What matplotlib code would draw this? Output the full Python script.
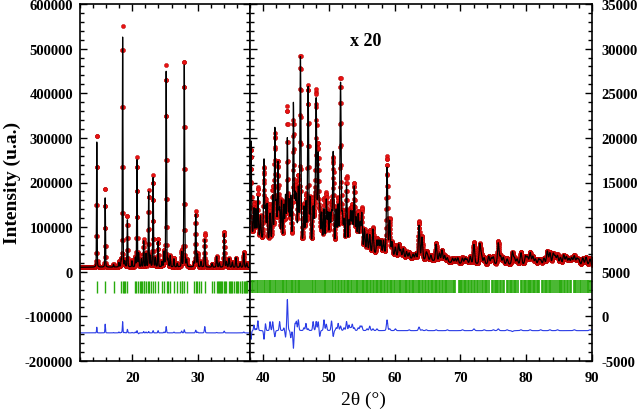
import numpy as np
import matplotlib
matplotlib.use("Agg")
import matplotlib.pyplot as plt
from matplotlib.ticker import MultipleLocator

plt.rcParams['font.family'] = ['Liberation Serif', 'DejaVu Serif']
plt.rcParams['font.weight'] = 'bold'
plt.rcParams['axes.unicode_minus'] = False

### Background (2theta, counts)
bg_tth = [12, 20, 30, 37, 40, 42, 46, 50, 54, 58, 62, 66, 70, 75, 80, 90]
bg_cts = [10000, 10500, 10500, 9500, 8500, 8300, 8000, 7800, 7300, 6900, 6500, 6200, 5900, 5800, 5800, 5700]

### Peaks, low angle part: position, calc height, obs height (above background)
pk_left_pos = [14.57, 15.85, 17.13, 17.95, 18.30, 18.52, 18.85, 19.25, 19.95, 20.46,
               20.72, 20.97, 21.38, 21.74, 22.10, 22.50, 22.77, 23.18, 23.54, 23.95,
               24.55, 24.85, 25.18, 25.44, 25.80, 26.36, 26.87, 27.54, 27.95, 28.31,
               29.45, 29.70, 29.98, 30.50, 31.08, 32.20, 32.90, 33.30, 34.05, 34.40,
               34.80, 35.30, 35.85, 36.50, 37.05, 37.50]
pk_left_calc = [290000, 160000, 6000, 10000, 14000, 515000, 12000, 108000, 14000, 20000,
                240000, 30000, 18000, 58000, 30000, 168000, 25000, 200000, 20000, 58000,
                12000, 33000, 438000, 15000, 25000, 18000, 8000, 33000, 460000, 15000,
                10000, 118000, 28000, 12000, 62000, 8000, 24000, 10000, 76000, 12000,
                20000, 12000, 22000, 10000, 33000, 10000]
pk_left_obs = [303000, 180000, 7000, 12000, 15000, 540000, 13000, 116000, 15000, 22000,
               245000, 28000, 18000, 61000, 32000, 171000, 25000, 205000, 20000, 63000,
               12000, 35000, 452000, 15000, 25000, 20000, 8000, 37000, 467000, 15000,
               10000, 124000, 30000, 12000, 76000, 8000, 25000, 10000, 80000, 12000,
               20000, 12000, 22000, 10000, 35000, 10000]

### Peaks, high angle part
pk_right_pos = [38.15, 38.6, 38.9, 39.2, 39.6, 40.13, 40.35, 40.6, 41.05, 41.45,
                41.78, 42.0, 42.27, 42.5, 42.8, 43.15, 43.4, 43.68, 43.95, 44.2,
                44.6, 44.85, 45.05, 45.35, 45.67, 46.2, 46.5, 46.84, 47.15, 47.6,
                47.85, 48.06, 48.37, 48.6, 48.9, 49.25, 49.6, 49.85, 50.15, 50.4,
                50.65, 51.1, 51.4, 51.77, 52.05, 52.3, 52.68, 53.05, 53.3, 53.55,
                53.85, 54.15, 54.45, 54.75, 55.0, 55.4, 55.8, 56.2, 56.7, 57.3,
                57.6, 57.9, 58.3, 58.84, 59.24, 59.6, 60.1, 60.6, 60.9, 61.3,
                61.8, 62.2, 62.8, 63.2, 63.7, 64.15, 64.8, 65.0, 65.5, 66.3,
                66.8, 67.2, 67.6, 68.0, 68.8, 69.2, 69.6, 70.3, 70.7, 71.0,
                71.5, 72.05, 72.95, 73.2, 73.6, 74.3, 74.7, 75.0, 75.75, 76.1,
                76.5, 77.1, 77.9, 78.2, 78.6, 79.2, 79.9, 80.2, 80.6, 81.0,
                81.4, 81.9, 82.2, 82.7, 83.2, 83.6, 84.1, 84.4, 84.75, 85.2,
                85.7, 86.1, 86.5, 86.9, 87.3, 87.7, 88.0, 88.6, 89.1, 89.7]
pk_right_calc = [10500, 3000, 3000, 4500, 2500, 9000, 3500, 4000, 3000, 5000,
                 12500, 4000, 8800, 3500, 4500, 4000, 5000, 11500, 4500, 5000,
                 15500, 5000, 5000, 6000, 21000, 4000, 4500, 17500, 5000, 4000,
                 4000, 16000, 10000, 4000, 3500, 4000, 5000, 3500, 3500, 3500,
                 10500, 4000, 4500, 18500, 3500, 3000, 7000, 3000, 4000, 4000,
                 7000, 3500, 4000, 3000, 4200, 2500, 2000, 2000, 2700, 1500,
                 1500, 1500, 1500, 9800, 3800, 1500, 1000, 1400, 800, 1000,
                 700, 600, 500, 600, 3800, 2500, 800, 500, 600, 1900,
                 900, 1300, 700, 500, 500, 500, 600, 600, 600, 500,
                 800, 2200, 2200, 900, 700, 900, 700, 800, 2400, 900,
                 800, 600, 1400, 700, 600, 1300, 900, 800, 1300, 900,
                 600, 600, 500, 700, 1500, 1300, 1200, 900, 1000, 800,
                 1100, 900, 700, 800, 1000, 700, 600, 800, 900, 700]
pk_right_obs = [9500, 3600, 3200, 5600, 2500, 8000, 4300, 4000, 4000, 6000,
                11800, 4000, 8800, 4500, 4500, 4300, 4200, 15000, 4500, 4200,
                13500, 5800, 6000, 7200, 21000, 4300, 5300, 17700, 5000, 5000,
                4000, 17000, 11000, 3300, 3500, 5200, 5700, 3500, 3500, 4600,
                9800, 4300, 5300, 19000, 3500, 3300, 8000, 3600, 4300, 4700,
                7300, 3500, 4300, 3500, 4700, 2500, 2200, 2500, 2900, 1700,
                1500, 1500, 1500, 11000, 4000, 1500, 1200, 1400, 800, 1000,
                700, 700, 500, 600, 4200, 2600, 900, 500, 600, 2000,
                900, 1300, 700, 600, 500, 500, 600, 700, 600, 500,
                800, 2400, 2200, 900, 800, 900, 700, 900, 2600, 900,
                800, 700, 1300, 700, 600, 1400, 900, 800, 1400, 900,
                600, 600, 600, 700, 1500, 1400, 1200, 900, 1100, 800,
                1100, 900, 700, 800, 1100, 700, 600, 800, 900, 800]

### Reflection positions
hkl_left = [14.56, 15.85, 17.13, 18.26, 18.51, 18.72, 18.95, 19.2, 20.46, 20.62,
            20.82, 21.13, 21.38, 21.49, 21.74, 21.85, 22.15, 22.35, 22.51, 22.87,
            23.18, 23.54, 23.9, 24.55, 24.92, 25.23, 25.49, 25.74, 26.3, 26.77,
            27.28, 27.54, 27.64, 27.95, 28.31, 29.44, 29.69, 29.95, 30.2, 30.5,
            31.08, 32.26, 32.5, 32.9, 33.05, 33.2, 33.35, 33.55, 33.7, 34.05,
            34.2, 34.4, 34.8, 35.0, 35.15, 35.3, 35.6, 35.85, 36.05, 36.2,
            36.5, 36.7, 36.85, 37.05, 37.25, 37.4, 37.6, 37.85]
hkl_right = [38.05, 38.25, 38.5, 38.75, 39.0, 39.2, 39.45, 39.8, 40.13, 40.35,
             40.6, 40.85, 41.05, 41.25, 41.45, 41.78, 42.0, 42.27, 42.5, 42.8,
             43.0, 43.15, 43.4, 43.68, 43.9, 44.2, 44.4, 44.6, 44.8, 45.05,
             45.3, 45.5, 45.67, 45.9, 46.2, 46.45, 46.84, 47.15, 47.4, 47.6,
             47.85, 48.06, 48.37, 48.6, 48.9, 49.25, 49.45, 49.6, 49.85, 50.15,
             50.4, 50.65, 50.9, 51.1, 51.35, 51.55, 51.77, 52.05, 52.3, 52.5,
             52.68, 52.9, 53.1, 53.3, 53.55, 53.85, 54.05, 54.25, 54.45, 54.7,
             55.0, 55.2, 55.4, 55.6, 55.8, 56.0, 56.2, 56.45, 56.7, 56.9,
             57.1, 57.3, 57.5, 57.7, 57.9, 58.1, 58.35, 58.6, 58.84, 59.05,
             59.24, 59.45, 59.65, 59.85, 60.1, 60.3, 60.6, 60.8, 61.0, 61.3,
             61.5, 61.7, 61.9, 62.2, 62.4, 62.6, 62.8, 63.0, 63.25, 63.5,
             63.7, 63.9, 64.15, 64.35, 64.55, 64.8, 65.0, 65.2, 65.5, 65.7,
             65.9, 66.1, 66.3, 66.5, 66.7, 66.9, 67.2, 67.4, 67.6, 67.8,
             68.0, 68.2, 68.6, 68.8, 69.0, 69.2, 69.75, 69.95, 70.15, 70.3,
             70.5, 70.7, 70.9, 71.1, 71.25, 71.6, 71.8, 72.05, 72.25, 72.45,
             72.65, 72.95, 73.3, 73.5, 73.7, 73.9, 74.1, 74.3, 74.85, 75.0,
             75.2, 75.4, 75.6, 75.75, 76.0, 76.2, 76.4, 76.65, 77.15, 77.3,
             77.5, 77.7, 77.9, 78.1, 78.3, 78.5, 78.7, 79.2, 79.4, 79.6,
             79.8, 80.0, 80.2, 80.4, 80.6, 80.8, 81.0, 81.2, 81.4, 81.6,
             81.8, 82.0, 82.45, 82.6, 82.8, 83.0, 83.2, 83.4, 83.6, 83.8,
             84.1, 84.3, 84.75, 84.95, 85.15, 85.35, 85.5, 85.7, 85.85, 86.2,
             86.4, 86.6, 86.8, 87.2, 87.4, 87.6, 87.8, 88.2, 88.4, 88.6,
             89.0, 89.2, 89.4, 89.6, 89.85]

### Pattern on the measurement grid (step 0.02 deg)
step = 0.02
tth = np.arange(12, 90 + step / 2, step)


def pattern(pos, heights):
    y = np.zeros_like(tth)
    for p, h in zip(pos, heights):
        w = 0.05 + 0.003 * p  # FWHM grows with angle
        u = (tth - p) / w
        y += h * (0.8 * np.exp(-4 * np.log(2) * u**2) + 0.2 / (1 + 4 * u**2))
    return y


bg = np.interp(tth, bg_tth, bg_cts)
ycalc = bg + pattern(pk_left_pos, pk_left_calc) + pattern(pk_right_pos, pk_right_calc)
yobs = bg + pattern(pk_left_pos, pk_left_obs) + pattern(pk_right_pos, pk_right_obs)
ydiff = yobs - ycalc

red = '#e81212'
green = '#28aa0c'
blue = '#2a3ce6'

fig = plt.figure(figsize=(6.4, 4.14), dpi=100)
ax1 = fig.add_axes([80 / 640, 52 / 414, 170 / 640, 357 / 414])
ax2 = fig.add_axes([250 / 640, 52 / 414, 342 / 640, 357 / 414])

### Left part, full scale
ax1.plot(tth, yobs, 'o', ms=3.0, mfc=red, mec='#b00000', mew=0.3)
ax1.plot(tth, ycalc, 'k-', lw=0.9)
ax1.vlines(hkl_left, -48000, -20000, color=green, lw=1.0)
ax1.plot(tth, ydiff - 137000, '-', color=blue, lw=0.8)
ax1.set_xlim(12, 38)
ax1.set_ylim(-200000, 600000)
ax1.xaxis.set_major_locator(MultipleLocator(10))
ax1.xaxis.set_minor_locator(MultipleLocator(2))
ax1.yaxis.set_major_locator(MultipleLocator(100000))
ax1.yaxis.set_minor_locator(MultipleLocator(20000))
ax1.tick_params(which='both', direction='in', top=True, right=True, width=1.0)
ax1.tick_params(axis='y', pad=5)
ax1.tick_params(axis='x', pad=7)

### Right part, zoomed x 20
ax2.plot(tth, yobs, 'o', ms=3.0, mfc=red, mec='#b00000', mew=0.3)
ax2.plot(tth, ycalc, 'k-', lw=0.9)
ax2.vlines(hkl_right, 2600, 4100, color=green, lw=1.2)
ax2.plot(tth, ydiff - 1600, '-', color=blue, lw=0.8)
ax2.set_xlim(38, 90)
ax2.set_ylim(-5000, 35000)
ax2.xaxis.set_major_locator(MultipleLocator(10))
ax2.xaxis.set_minor_locator(MultipleLocator(2))
ax2.yaxis.set_major_locator(MultipleLocator(5000))
ax2.yaxis.set_minor_locator(MultipleLocator(1000))
ax2.yaxis.tick_right()
ax2.tick_params(which='both', direction='in', top=True, left=True, right=True,
                labelleft=False, labelright=True, width=1.0)
ax2.tick_params(axis='y', pad=7)
ax2.tick_params(axis='x', pad=7)
ax2.text(366 / 640, 1 - 41 / 414, 'x 20', transform=fig.transFigure,
         ha='center', va='center', fontsize=13, fontweight='bold')

for ax in (ax1, ax2):
    ax.tick_params(which='major', length=5, labelsize=10.5)
    ax.tick_params(which='minor', length=3)
    for s in ax.spines.values():
        s.set_linewidth(1.2)

fig.text(12 / 640, 1 - 183 / 414, 'Intensity (u.a.)', rotation=90,
         ha='center', va='center', fontsize=14, fontweight='bold')
fig.text(363 / 640, 1 - 400 / 414, '2θ (°)', ha='center', va='center',
         fontsize=14, fontweight='normal')

fig.savefig('out.png', dpi=100)
